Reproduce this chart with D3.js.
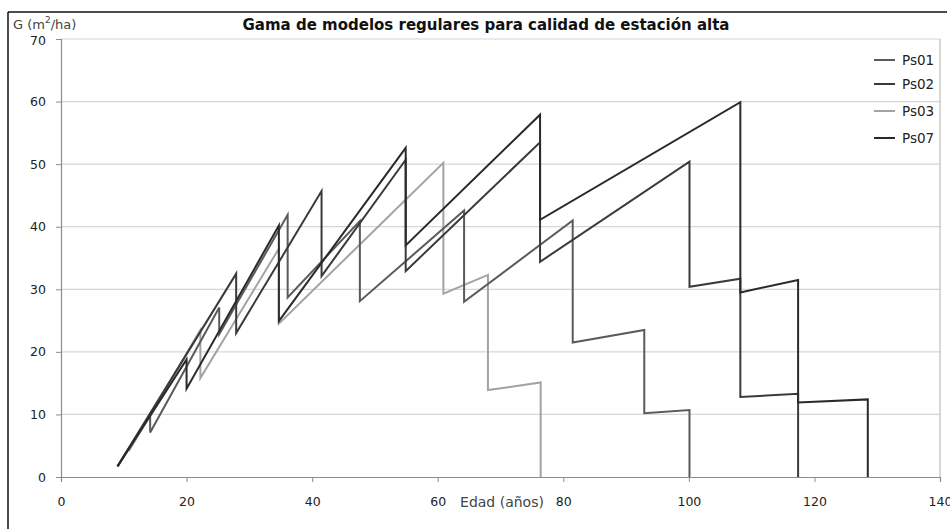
<!DOCTYPE html>
<html><head><meta charset="utf-8">
<script src="https://cdn.jsdelivr.net/npm/d3@7"></script>
<style>body{margin:0;background:#fff}svg{display:block}</style>
</head><body>
<svg id="c" width="950" height="529"></svg>
<script>
const seriesNames = ["Ps01","Ps02","Ps03","Ps07"];
const ps01Age = [9.0,14.2,14.2,25.2,25.2,36.1,36.1,47.6,47.6,64.2,64.2,81.5,81.5,92.9,92.9,100.1,100.1];
const ps01G   = [1.7,10.0,7.1,27.1,22.8,41.9,28.7,40.9,28.1,42.6,28.0,41.0,21.5,23.5,10.2,10.7,0];
const ps02Age = [9.0,27.9,27.9,41.5,41.5,54.9,54.9,76.3,76.3,100.1,100.1,108.2,108.2,117.4,117.4];
const ps02G   = [1.7,32.5,23.0,45.7,32.1,50.7,32.9,53.5,34.4,50.4,30.4,31.7,12.8,13.3,0];
const ps03Age = [10.8,22.2,22.2,34.7,34.7,60.9,60.9,68.0,68.0,76.4,76.4];
const ps03G   = [4.1,23.5,15.8,36.5,24.5,50.2,29.3,32.3,13.9,15.1,0];
const ps07Age = [9.0,20.0,20.0,34.7,34.7,54.9,54.9,76.3,76.3,108.2,108.2,117.4,117.4,128.5,128.5];
const ps07G   = [1.7,18.8,14.1,40.2,24.9,52.6,37.0,57.9,41.1,59.9,29.5,31.5,11.9,12.4,0];
const xTicks = [0,20,40,60,80,100,120,140];
const yTicks = [0,10,20,30,40,50,60,70];
const colors = {Ps01:"#5a5a5a",Ps02:"#3a3a3a",Ps03:"#a3a3a3",Ps07:"#2a2a2a"};

const series = [
  {name:"Ps01", age:ps01Age, g:ps01G},
  {name:"Ps02", age:ps02Age, g:ps02G},
  {name:"Ps03", age:ps03Age, g:ps03G},
  {name:"Ps07", age:ps07Age, g:ps07G}
];

const svg = d3.select("#c");
const font = "DejaVu Sans, Verdana, sans-serif";
const x = d3.scaleLinear().domain([0,140]).range([61,940]);
const y = d3.scaleLinear().domain([0,70]).range([477,39]);

// outer frame
svg.append("line").attr("x1",8).attr("x2",947).attr("y1",12).attr("y2",12).attr("stroke","#111").attr("stroke-width",1.5);
svg.append("line").attr("x1",8).attr("x2",8).attr("y1",12).attr("y2",529).attr("stroke","#111").attr("stroke-width",1.5);

// gridlines
svg.append("g").selectAll("line").data(yTicks.filter(d=>d>0)).join("line")
  .attr("x1",x(0)).attr("x2",x(140)).attr("y1",d=>y(d)).attr("y2",d=>y(d))
  .attr("stroke","#d6d6d6").attr("stroke-width",1.2);
// right border
svg.append("line").attr("x1",x(140)).attr("x2",x(140)).attr("y1",y(70)).attr("y2",y(0)).attr("stroke","#bdbdbd").attr("stroke-width",1.2);

// axes
const xAxis = d3.axisBottom(x).tickValues(xTicks).tickSize(5).tickPadding(15).tickFormat(d3.format("d"));
const gx = svg.append("g").attr("transform",`translate(0,${y(0)})`).call(xAxis);
gx.select(".domain").attr("stroke","#8c8c8c").attr("stroke-width",1.2);
gx.selectAll(".tick line").attr("stroke","#8c8c8c");
gx.selectAll("text").attr("font-family",font).attr("font-size",12.5).attr("fill","#222");

const yAxis = d3.axisLeft(y).tickValues(yTicks).tickSize(5).tickPadding(10).tickFormat(d3.format("d"));
const gy = svg.append("g").attr("transform",`translate(${x(0)},0)`).call(yAxis);
gy.select(".domain").attr("stroke","#8c8c8c").attr("stroke-width",1.2);
gy.selectAll(".tick line").attr("stroke","#8c8c8c");
gy.selectAll("text").attr("font-family",font).attr("font-size",12.5).attr("fill","#222");
gy.selectAll(".tick").filter(d=>d===70).select("text").attr("dy","0.45em");

// lines
const line = d3.line().x(d=>x(d[0])).y(d=>y(d[1]));
const drawOrder = ["Ps03","Ps01","Ps02","Ps07"];
drawOrder.forEach(n=>{
  const s = series.find(t=>t.name===n);
  const pts = s.age.map((a,i)=>[a,s.g[i]]);
  svg.append("path").datum(pts).attr("d",line).attr("fill","none")
    .attr("stroke",colors[n]).attr("stroke-width",2).attr("stroke-linejoin","miter");
});

// title
svg.append("text").attr("x",486).attr("y",30).attr("text-anchor","middle")
  .attr("font-family",font).attr("font-size",15).attr("font-weight","bold").attr("fill","#111")
  .text("Gama de modelos regulares para calidad de estación alta");

// y label
const yl = svg.append("text").attr("x",13).attr("y",29).attr("font-family",font).attr("font-size",13).attr("fill","#444");
yl.append("tspan").text("G (m");
yl.append("tspan").attr("font-size",9).attr("dy",-6).text("2");
yl.append("tspan").attr("dy",6).text("/ha)");

// x label
svg.append("text").attr("x",502).attr("y",507).attr("text-anchor","middle")
  .attr("font-family",font).attr("font-size",14).attr("fill","#444").text("Edad (años)");

// legend
const legY = [60,84,111,138];
const lg = svg.append("g").selectAll("g").data(seriesNames).join("g")
  .attr("transform",(d,i)=>`translate(0,${legY[i]})`);
lg.append("line").attr("x1",874).attr("x2",895).attr("y1",0).attr("y2",0)
  .attr("stroke",d=>colors[d]).attr("stroke-width",2);
lg.append("text").attr("x",902).attr("y",0).attr("dy","0.35em")
  .attr("font-family",font).attr("font-size",13.5).attr("fill","#222").text(d=>d);
</script>
</body></html>
